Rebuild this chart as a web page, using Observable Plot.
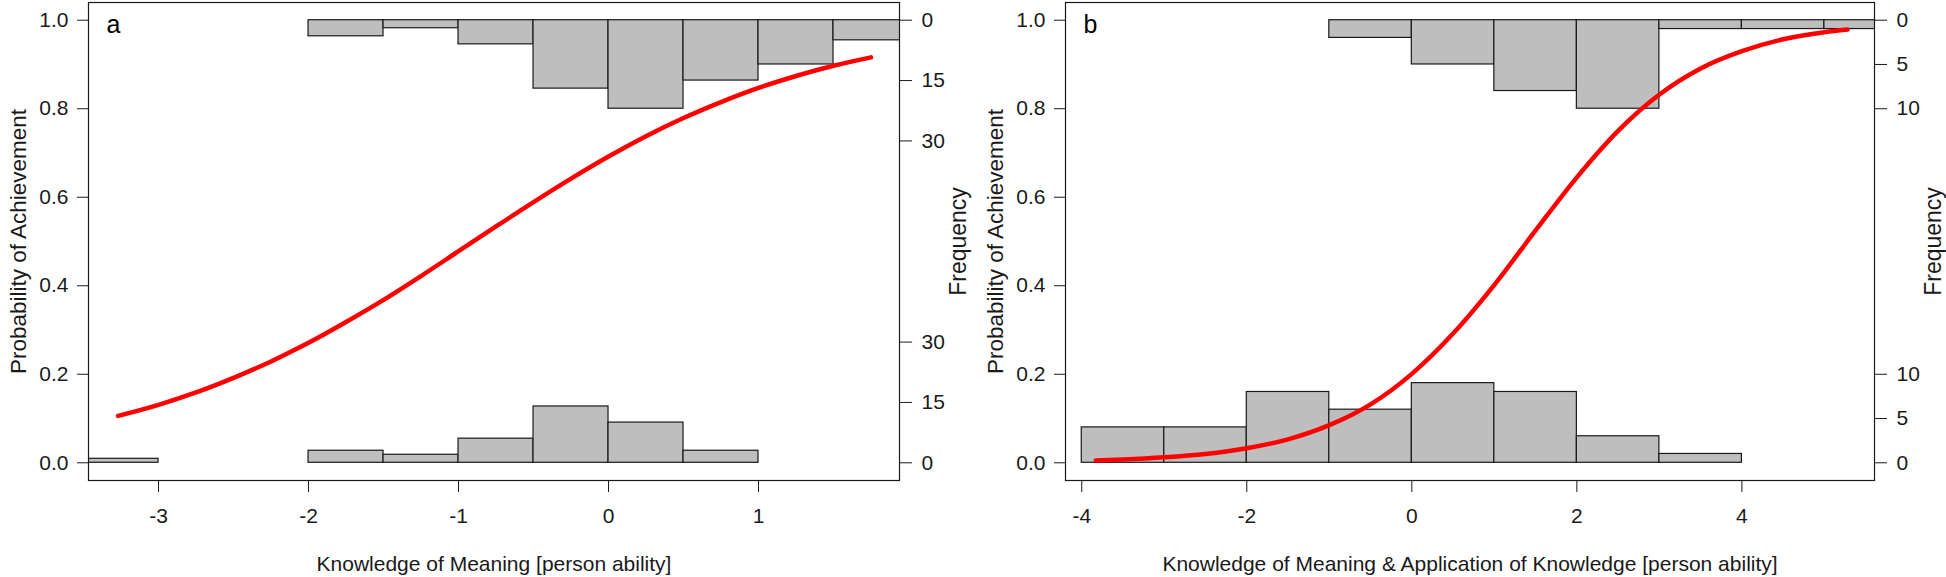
<!DOCTYPE html>
<html><head><meta charset="utf-8">
<script src="https://cdn.jsdelivr.net/npm/d3@7"></script>
<script src="https://cdn.jsdelivr.net/npm/@observablehq/plot@0.6"></script>
<style>
body{margin:0;background:#fff;}
#wrap{display:flex;width:1946px;height:577px;overflow:hidden;}
</style></head><body><div id="wrap"></div>
<script>
// ---------- shared ----------
const yTitle = "Probability of Achievement";
const freqTitle = "Frequency";
const probTicks = [0, 0.2, 0.4, 0.6, 0.8, 1.0];

// ---------- panel a ----------
const aLabel = "a";
const aXTitle = "Knowledge of Meaning [person ability]";
const aXTicks = [-3, -2, -1, 0, 1];
const aXDomain = [-3.467, 1.94];
const aBinWidth = 0.5;
const aTopBinStart = [-2, -1.5, -1, -0.5, 0, 0.5, 1, 1.5];
const aTopCounts   = [4, 2, 6, 17, 22, 15, 11, 5];
const aBotBinStart = [-3.5, -2, -1.5, -1, -0.5, 0, 0.5];
const aBotCounts   = [1, 3, 2, 6, 14, 10, 3];
const aFreqTicks = [0, 15, 30];
const aCurveX = [-3.27,-3,-2.75,-2.5,-2.25,-2,-1.75,-1.5,-1.25,-1,-0.75,-0.5,-0.25,0,0.25,0.5,0.75,1,1.25,1.5,1.75];
const aCurveP = [0.106,0.131,0.159,0.192,0.229,0.271,0.318,0.368,0.422,0.478,0.534,0.589,0.642,0.692,0.738,0.779,0.815,0.847,0.874,0.897,0.916];

// ---------- panel b ----------
const bLabel = "b";
const bXTitle = "Knowledge of Meaning & Application of Knowledge [person ability]";
const bXTicks = [-4, -2, 0, 2, 4];
const bXDomain = [-4.197, 5.607];
const bBinWidth = 1;
const bTopBinStart = [-1, 0, 1, 2, 3, 4, 5];
const bTopCounts   = [2, 5, 8, 10, 1, 1, 1];
const bBotBinStart = [-4, -3, -2, -1, 0, 1, 2, 3];
const bBotCounts   = [4, 4, 8, 6, 9, 8, 3, 1];
const bFreqTicks = [0, 5, 10];
const bCurveX = [-3.83,-3.5,-3,-2.5,-2,-1.5,-1,-0.5,0,0.5,1,1.5,2,2.5,3,3.5,4,4.5,5,5.28];
const bCurveP = [0.0054,0.0075,0.0124,0.020,0.033,0.053,0.085,0.132,0.201,0.292,0.402,0.525,0.645,0.750,0.832,0.891,0.930,0.957,0.973,0.979];

const INK = "#1a1a1a";

function panel(cfg) {
  // histogram counts drawn so that the largest bar spans 0.2 of the probability axis
  const maxCount = d3.max([...cfg.topCounts, ...cfg.botCounts]);
  const k = 0.2 / maxCount;
  const top = cfg.topBinStart.map((x0, i) => ({x1: x0, x2: x0 + cfg.binWidth, c: cfg.topCounts[i]})).filter(d => d.c > 0);
  const bot = cfg.botBinStart.map((x0, i) => ({x1: x0, x2: x0 + cfg.binWidth, c: cfg.botCounts[i]})).filter(d => d.c > 0);
  const curve = cfg.curveX.map((x, i) => ({x, p: cfg.curveP[i]}));
  const rightPos = [];
  const rightLab = new Map();
  cfg.freqTicks.forEach(t => { const p = 1 - t * k; rightPos.push(p); rightLab.set(p, String(t)); });
  cfg.freqTicks.forEach(t => { const p = t * k; rightPos.push(p); rightLab.set(p, String(t)); });

  return Plot.plot({
    width: cfg.width,
    height: 577,
    marginLeft: cfg.marginLeft,
    marginRight: cfg.marginRight,
    marginTop: 2,
    marginBottom: 97,
    style: {fontFamily: "'Liberation Sans', Arial, sans-serif", fontSize: "21px", color: INK, background: "#fff", overflow: "visible"},
    x: {domain: cfg.xDomain},
    y: {domain: [-0.04, 1.04]},
    marks: [
      Plot.rect(top, {x1: "x1", x2: "x2", y1: d => 1, y2: d => 1 - d.c * k, fill: "#bebebe", stroke: INK, strokeWidth: 1.2, clip: true}),
      Plot.rect(bot, {x1: "x1", x2: "x2", y1: d => 0, y2: d => d.c * k, fill: "#bebebe", stroke: INK, strokeWidth: 1.2, clip: true}),
      Plot.line(curve, {x: "x", y: "p", stroke: "#ff0000", strokeWidth: 4.5, curve: "monotone-x"}),
      Plot.frame({stroke: INK, strokeWidth: 1.2}),
      Plot.axisX(cfg.xTicks, {tickSize: 12, tickPadding: 16, tickFormat: d => String(d), label: null}),
      Plot.axisY(probTicks, {anchor: "left", tickSize: 11, tickPadding: 9, tickFormat: d3.format(".1f"), label: null}),
      Plot.axisY(rightPos, {anchor: "right", tickSize: 12, tickPadding: 10, tickFormat: d => rightLab.get(d), label: null}),
      Plot.text([cfg.xTitle], {frameAnchor: "bottom", dy: 90, lineAnchor: "bottom", textAnchor: "middle", fill: INK}),
      Plot.text([yTitle], {frameAnchor: "left", rotate: -90, dx: -63, lineAnchor: "bottom", textAnchor: "middle", fontSize: 22.5, fill: INK}),
      Plot.text([freqTitle], {frameAnchor: "right", rotate: -90, dx: 66, lineAnchor: "bottom", textAnchor: "middle", fontSize: 23, fill: INK}),
      Plot.text([cfg.label], {frameAnchor: "top-left", textAnchor: "start", dx: 18, dy: 30, lineAnchor: "bottom", fontSize: 25, fill: "#000"})
    ]
  });
}

const wrap = document.getElementById("wrap");
wrap.append(panel({
  width: 976, marginLeft: 88, marginRight: 77,
  label: aLabel, xTitle: aXTitle, xTicks: aXTicks, xDomain: aXDomain, binWidth: aBinWidth,
  topBinStart: aTopBinStart, topCounts: aTopCounts, botBinStart: aBotBinStart, botCounts: aBotCounts,
  freqTicks: aFreqTicks, curveX: aCurveX, curveP: aCurveP
}));
wrap.append(panel({
  width: 970, marginLeft: 89, marginRight: 72,
  label: bLabel, xTitle: bXTitle, xTicks: bXTicks, xDomain: bXDomain, binWidth: bBinWidth,
  topBinStart: bTopBinStart, topCounts: bTopCounts, botBinStart: bBotBinStart, botCounts: bBotCounts,
  freqTicks: bFreqTicks, curveX: bCurveX, curveP: bCurveP
}));
</script></body></html>
